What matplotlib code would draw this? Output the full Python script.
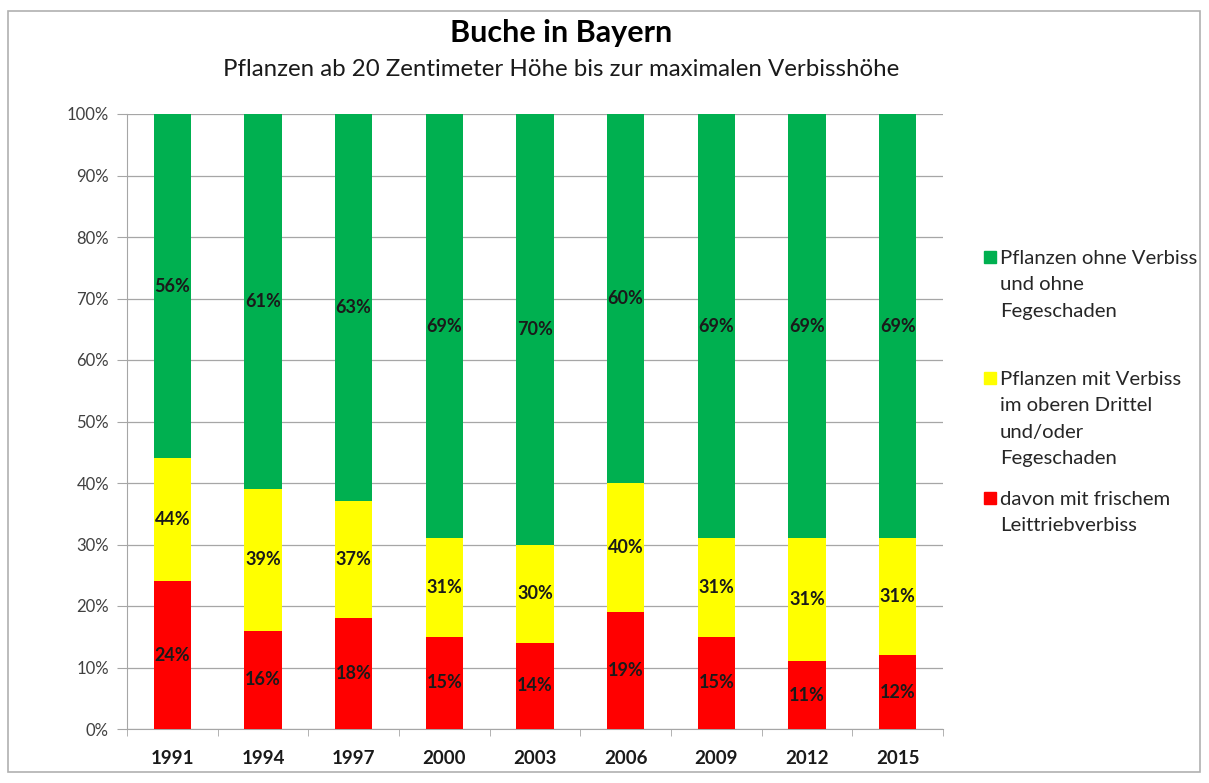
import matplotlib
matplotlib.use("Agg")
import matplotlib.pyplot as plt
from matplotlib.patches import Rectangle
import numpy as np

years = ["1991", "1994", "1997", "2000", "2003", "2006", "2009", "2012", "2015"]
leittrieb = [24, 16, 18, 15, 14, 19, 15, 11, 12]        # red (part of yellow total)
verbiss_total = [44, 39, 37, 31, 30, 40, 31, 31, 31]    # yellow total incl. red
ohne = [56, 61, 63, 69, 70, 60, 69, 69, 69]             # green

series_names = ["Pflanzen ohne Verbiss\nund ohne\nFegeschaden",
                "Pflanzen mit Verbiss\nim oberen Drittel\nund/oder\nFegeschaden",
                "davon mit frischem\nLeittriebverbiss"]
colors = ["#00B050", "#FFFF00", "#FF0000"]

plt.rcParams['font.family'] = ['Lato', 'DejaVu Sans']

W, H = 1209, 783
fig = plt.figure(figsize=(W / 100, H / 100), dpi=100)
ax = fig.add_axes([127 / W, (H - 729) / H, (943 - 127) / W, (729 - 114) / H])

x = np.arange(len(years))
red = np.array(leittrieb)
yel = np.array(verbiss_total) - red
grn = np.array(ohne)
w = 0.41
ax.bar(x, red, w, color=colors[2], zorder=3)
ax.bar(x, yel, w, bottom=red, color=colors[1], zorder=3)
ax.bar(x, grn, w, bottom=red + yel, color=colors[0], zorder=3)

lab_kw = dict(ha="center", va="center", fontsize=13, fontweight="bold", color="#1a1a1a", zorder=4)
for i in range(len(years)):
    ax.text(x[i], red[i] / 2, f"{leittrieb[i]}%", **lab_kw)
    ax.text(x[i], red[i] + yel[i] / 2, f"{verbiss_total[i]}%", **lab_kw)
    ax.text(x[i], red[i] + yel[i] + grn[i] / 2, f"{ohne[i]}%", **lab_kw)

ax.set_xlim(-0.5, len(years) - 0.5)
ax.set_ylim(0, 100)
ax.set_yticks(np.arange(0, 101, 10))
ax.set_yticklabels([f"{v}%" for v in range(0, 101, 10)], fontsize=12, color="#404040")
ax.set_xticks(x)
ax.set_xticklabels(years, fontsize=13.5, fontweight="bold", color="#1a1a1a")
ax.tick_params(axis="x", length=0, pad=15)
ax.tick_params(axis="y", length=7, color="#a6a6a6", pad=6)
ax.set_xticks(np.arange(-0.5, len(years), 1), minor=True)
ax.tick_params(axis="x", which="minor", length=5, color="#a6a6a6")
ax.grid(axis="y", color="#a6a6a6", linewidth=0.9, zorder=0)
for s in ["top", "right"]:
    ax.spines[s].set_visible(False)
for s in ["left", "bottom"]:
    ax.spines[s].set_color("#a6a6a6")

fig.text(561 / W, 1 - 33 / H, "Buche in Bayern", ha="center", va="center", fontsize=22, fontweight="bold")
fig.text(561 / W, 1 - 70 / H, "Pflanzen ab 20 Zentimeter Höhe bis zur maximalen Verbisshöhe",
         ha="center", va="center", fontsize=17.3, color="#1a1a1a")

# manual legend (handle aligned with first line, as in the original)
leg_y = [257, 378, 498]
for name, col, yy in zip(series_names, colors, leg_y):
    fig.patches.append(Rectangle((984 / W, (H - yy - 6) / H), 12 / W, 12 / H,
                                 transform=fig.transFigure, color=col))
    fig.text(1000 / W, (H - yy + 7) / H, name, ha="left", va="top", fontsize=14.6,
             linespacing=1.67, color="#262626", transform=fig.transFigure)

fig.patches.append(Rectangle((8 / W, 11 / H), 1192 / W, 761 / H, transform=fig.transFigure,
                             fill=False, edgecolor="#b0b0b0", linewidth=1.2))

fig.savefig("out.png", dpi=100)
